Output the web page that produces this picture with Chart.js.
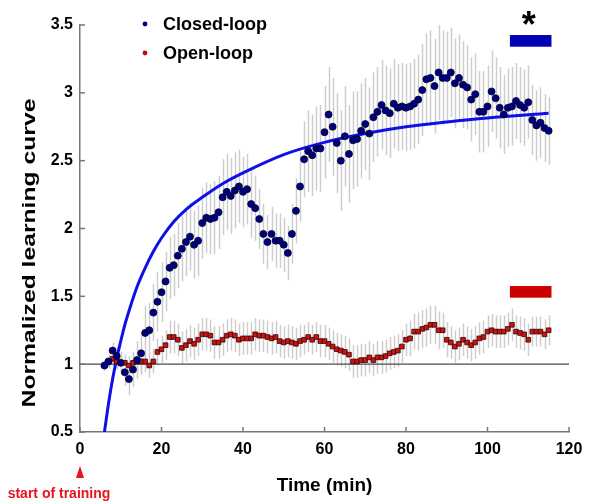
<!DOCTYPE html>
<html><head><meta charset="utf-8">
<script src="https://cdn.jsdelivr.net/npm/chart.js@4.4.1/dist/chart.umd.min.js"></script>
<style>html,body{margin:0;padding:0;background:#fff}</style>
</head><body>
<canvas id="c" width="600" height="504"></canvas>
<script>
// ---- data ----
const closedX = [6,7,8,9,10,11,12,13,14,15,16,17,18,19,20,21,22,23,24,25,26,27,28,29,30,31,32,33,34,35,36,37,38,39,40,41,42,43,44,45,46,47,48,49,50,51,52,53,54,55,56,57,58,59,60,61,62,63,64,65,66,67,68,69,70,71,72,73,74,75,76,77,78,79,80,81,82,83,84,85,86,87,88,89,90,91,92,93,94,95,96,97,98,99,100,101,102,103,104,105,106,107,108,109,110,111,112,113,114,115];
const closedY = [0.99,1.02,1.10,1.06,1.01,0.94,0.89,0.96,1.03,1.08,1.23,1.25,1.38,1.46,1.53,1.61,1.71,1.73,1.80,1.85,1.90,1.94,1.88,1.91,2.04,2.08,2.07,2.08,2.12,2.23,2.27,2.24,2.28,2.31,2.27,2.29,2.18,2.15,2.07,1.96,1.90,1.96,1.91,1.91,1.88,1.82,1.96,2.13,2.31,2.51,2.57,2.54,2.59,2.59,2.71,2.84,2.75,2.63,2.50,2.68,2.55,2.65,2.66,2.72,2.77,2.70,2.82,2.86,2.91,2.87,2.85,2.92,2.89,2.90,2.89,2.90,2.92,2.95,3.02,3.10,3.11,3.05,3.15,3.11,3.11,3.15,3.07,3.11,3.06,3.04,2.95,2.99,2.86,2.86,2.90,3.01,2.96,2.89,2.84,2.89,2.90,2.94,2.91,2.89,2.93,2.80,2.76,2.78,2.74,2.72];
const closedErr = [0.04,0.05,0.06,0.07,0.08,0.10,0.12,0.13,0.14,0.16,0.20,0.20,0.21,0.22,0.22,0.22,0.23,0.23,0.24,0.24,0.25,0.25,0.25,0.26,0.26,0.26,0.26,0.27,0.27,0.28,0.28,0.28,0.28,0.27,0.26,0.26,0.25,0.24,0.22,0.22,0.20,0.20,0.20,0.20,0.20,0.20,0.22,0.24,0.26,0.28,0.30,0.30,0.31,0.32,0.34,0.35,0.36,0.37,0.37,0.37,0.36,0.36,0.35,0.35,0.34,0.34,0.33,0.33,0.33,0.33,0.33,0.33,0.32,0.32,0.32,0.32,0.33,0.33,0.34,0.34,0.35,0.35,0.35,0.35,0.34,0.33,0.33,0.32,0.32,0.31,0.31,0.30,0.30,0.30,0.30,0.30,0.30,0.30,0.29,0.29,0.29,0.28,0.28,0.28,0.27,0.26,0.26,0.26,0.25,0.25];
const openX = [7,8,9,10,11,12,13,14,15,16,17,18,19,20,21,22,23,24,25,26,27,28,29,30,31,32,33,34,35,36,37,38,39,40,41,42,43,44,45,46,47,48,49,50,51,52,53,54,55,56,57,58,59,60,61,62,63,64,65,66,67,68,69,70,71,72,73,74,75,76,77,78,79,80,81,82,83,84,85,86,87,88,89,90,91,92,93,94,95,96,97,98,99,100,101,102,103,104,105,106,107,108,109,110,111,112,113,114,115];
const openY = [1.02,1.04,1.02,1.01,1.01,0.99,1.01,1.02,1.02,1.02,0.99,1.02,1.09,1.11,1.14,1.20,1.20,1.18,1.12,1.14,1.17,1.15,1.18,1.22,1.22,1.21,1.16,1.16,1.18,1.21,1.22,1.21,1.18,1.19,1.19,1.19,1.22,1.21,1.21,1.20,1.19,1.20,1.17,1.16,1.17,1.16,1.15,1.17,1.18,1.20,1.18,1.20,1.17,1.17,1.15,1.13,1.11,1.10,1.09,1.07,1.02,1.02,1.03,1.03,1.05,1.03,1.05,1.05,1.06,1.08,1.09,1.10,1.13,1.18,1.19,1.24,1.24,1.26,1.27,1.29,1.29,1.25,1.25,1.18,1.16,1.13,1.15,1.18,1.16,1.14,1.16,1.19,1.20,1.24,1.25,1.24,1.24,1.24,1.26,1.29,1.24,1.23,1.22,1.18,1.24,1.24,1.24,1.22,1.25];
const openErr = [0.05,0.05,0.06,0.06,0.06,0.07,0.07,0.07,0.08,0.08,0.09,0.09,0.10,0.10,0.11,0.12,0.12,0.12,0.12,0.12,0.12,0.12,0.12,0.12,0.12,0.12,0.12,0.12,0.12,0.12,0.12,0.12,0.12,0.12,0.12,0.12,0.12,0.12,0.12,0.12,0.12,0.12,0.12,0.12,0.12,0.12,0.12,0.12,0.11,0.11,0.11,0.11,0.12,0.12,0.12,0.12,0.12,0.12,0.12,0.12,0.12,0.12,0.12,0.12,0.12,0.12,0.12,0.12,0.12,0.12,0.12,0.12,0.12,0.12,0.13,0.13,0.14,0.14,0.14,0.14,0.14,0.14,0.13,0.13,0.12,0.12,0.12,0.12,0.12,0.12,0.12,0.12,0.12,0.12,0.12,0.12,0.12,0.12,0.12,0.12,0.12,0.12,0.12,0.12,0.11,0.11,0.11,0.11,0.11];
const fitX = [6,7,8,9,10,11,12,14,16,18,20,23,26,30,35,40,50,60,70,80,90,100,115];
const fitY = [0.50,0.71,0.89,1.04,1.17,1.29,1.39,1.57,1.71,1.83,1.93,2.05,2.14,2.23,2.33,2.41,2.545,2.635,2.70,2.75,2.785,2.815,2.85];
const baselineX = [0,120];
const baselineY = [1,1];
const sigX = [105.5,115.7];
const sigClosedY = [3.34,3.426];
const sigOpenY = [1.49,1.576];
const xTicks = [0,20,40,60,80,100,120];
const yTicks = [0.5,1,1.5,2,2.5,3,3.5];
const seriesLabels = ['Closed-loop','Open-loop'];

const pts = (xs, ys) => xs.map((x, i) => ({x, y: ys[i]}));
const FONT = "'Liberation Sans', Arial, sans-serif";

const extras = {
  id: 'extras',
  beforeDatasetsDraw(chart) {
    const {ctx, scales:{x, y}} = chart;
    ctx.save();
    ctx.strokeStyle = '#cdcdcd';
    ctx.lineWidth = 1.5;
    const bars = (xs, ys, es) => xs.forEach((v, i) => {
      const px = Math.round(x.getPixelForValue(v)) + 0.5;
      ctx.beginPath();
      ctx.moveTo(px, y.getPixelForValue(ys[i] + es[i]));
      ctx.lineTo(px, y.getPixelForValue(ys[i] - es[i]));
      ctx.stroke();
    });
    bars(closedX, closedY, closedErr);
    bars(openX, openY, openErr);
    ctx.restore();
  },
  afterDraw(chart) {
    const {ctx, scales:{x, y}, chartArea:a} = chart;
    ctx.save();
    // inward ticks
    ctx.strokeStyle = '#777'; ctx.lineWidth = 1.5;
    xTicks.forEach(v => { const px = x.getPixelForValue(v); ctx.beginPath(); ctx.moveTo(px, a.bottom); ctx.lineTo(px, a.bottom - 5); ctx.stroke(); });
    yTicks.forEach(v => { const py = y.getPixelForValue(v); ctx.beginPath(); ctx.moveTo(a.left, py); ctx.lineTo(a.left + 5, py); ctx.stroke(); });
    // significance bars
    const rect = (ys, col) => {
      const x0 = x.getPixelForValue(sigX[0]), x1 = x.getPixelForValue(sigX[1]);
      const y0 = y.getPixelForValue(ys[1]), y1 = y.getPixelForValue(ys[0]);
      ctx.fillStyle = col; ctx.fillRect(x0, y0, x1 - x0, y1 - y0);
    };
    rect(sigClosedY, '#0000b4');
    rect(sigOpenY, '#cc0000');
    // asterisk
    ctx.fillStyle = '#000';
    ctx.font = 'bold 36px ' + FONT;
    ctx.textAlign = 'center'; ctx.textBaseline = 'alphabetic';
    ctx.fillText('*', x.getPixelForValue((sigX[0] + sigX[1]) / 2) - 2, 37);
    // legend
    ctx.font = 'bold 18px ' + FONT;
    ctx.textAlign = 'left'; ctx.textBaseline = 'middle';
    ctx.fillStyle = '#000080';
    ctx.beginPath(); ctx.arc(145, 24, 2.4, 0, Math.PI * 2); ctx.fill();
    ctx.fillStyle = '#b01010';
    ctx.beginPath(); ctx.arc(145, 53, 2.4, 0, Math.PI * 2); ctx.fill();
    ctx.fillStyle = '#000';
    ctx.fillText(seriesLabels[0], 163, 25);
    ctx.fillText(seriesLabels[1], 163, 54);
    // y title (stretched along its length like the reference)
    ctx.save();
    ctx.translate(30, 253);
    ctx.rotate(-Math.PI / 2);
    ctx.scale(1.3, 1);
    ctx.font = 'bold 19px ' + FONT;
    ctx.textAlign = 'center'; ctx.textBaseline = 'middle';
    ctx.fillText('Normalized learning curve', 0, 0);
    ctx.restore();
    // start of training
    const p0 = x.getPixelForValue(0);
    ctx.fillStyle = '#e8141c';
    ctx.beginPath(); ctx.moveTo(p0, 466); ctx.lineTo(p0 + 4, 478); ctx.lineTo(p0 - 4, 478); ctx.closePath(); ctx.fill();
    ctx.font = 'bold 14px ' + FONT;
    ctx.textAlign = 'center'; ctx.textBaseline = 'middle';
    ctx.fillText('start of training', 59, 494);
    ctx.restore();
  }
};

new Chart(document.getElementById('c'), {
  type: 'scatter',
  data: {
    datasets: [
      { label: seriesLabels[0], data: pts(closedX, closedY), showLine: false, pointStyle: 'circle', pointRadius: 3.5, pointBackgroundColor: '#00007c', pointBorderColor: '#000030', pointBorderWidth: 0.8, order: 1 },
      { label: seriesLabels[1], data: pts(openX, openY), showLine: false, pointStyle: 'rect', pointRadius: 3.3, pointBackgroundColor: '#c81414', pointBorderColor: '#3a0000', pointBorderWidth: 0.8, order: 2 },
      { label: 'fit', data: pts(fitX, fitY), showLine: true, pointRadius: 0, borderColor: '#1010e6', borderWidth: 3, cubicInterpolationMode: 'monotone', order: 3 },
      { label: 'baseline', data: pts(baselineX, baselineY), showLine: true, pointRadius: 0, borderColor: '#4a4a4a', borderWidth: 1.3, order: 4 }
    ]
  },
  options: {
    responsive: false, animation: false, devicePixelRatio: 1,
    layout: { padding: { top: 25, right: 31, left: 0, bottom: 0 } },
    plugins: { legend: { display: false }, tooltip: { enabled: false } },
    scales: {
      x: {
        type: 'linear', min: 0, max: 120,
        afterFit: s => { s.height = 72; },
        afterBuildTicks: s => { s.ticks = xTicks.map(v => ({value: v})); },
        ticks: { color: '#000', font: { family: FONT, size: 16, weight: 'bold' }, padding: 8, maxRotation: 0 },
        grid: { display: false, drawTicks: false },
        border: { display: true, color: '#777', width: 1.5 },
        title: { display: true, text: 'Time (min)', color: '#000', font: { family: FONT, size: 19, weight: 'bold' }, padding: { top: 0, bottom: 7 } }
      },
      y: {
        type: 'linear', min: 0.5, max: 3.5,
        afterFit: s => { s.width = 80; },
        afterBuildTicks: s => { s.ticks = yTicks.map(v => ({value: v})); },
        ticks: { color: '#000', font: { family: FONT, size: 16, weight: 'bold' }, padding: 7, callback: v => String(v) },
        grid: { display: false, drawTicks: false },
        border: { display: true, color: '#777', width: 1.5 }
      }
    }
  },
  plugins: [extras]
});
</script>
</body></html>
